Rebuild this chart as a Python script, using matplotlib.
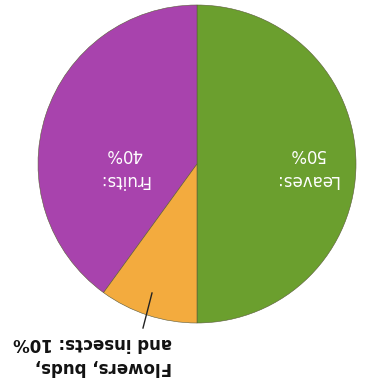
import matplotlib.pyplot as plt

# diet shares (the picture is printed upside down)
labels = ['Leaves:\n50%', 'Fruits:\n40%', 'Flowers, buds,\nand insects: 10%']
shares = [50, 40, 10]
colors = ['#6b9f2e', '#a843ad', '#f3ab3e']

fig = plt.figure(figsize=(3.65, 3.85), dpi=100)
ax = fig.add_axes([0, 0, 1, 1])

wedges, _ = ax.pie(shares, colors=colors, startangle=-90, counterclock=True,
                   center=(197, 221), radius=159,
                   wedgeprops=dict(edgecolor='#5a5a3a', linewidth=0.4))
ax.set_xlim(0, 365)
ax.set_ylim(0, 385)
ax.set_aspect('equal')
ax.axis('off')

# inside labels, rotated 180 degrees
ax.text(306, 218, labels[0], color='white', fontsize=12, rotation=180,
        ha='center', va='center', multialignment='center', linespacing=1.55)
ax.text(124, 218, labels[1], color='white', fontsize=12, rotation=180,
        ha='center', va='center', multialignment='center', linespacing=1.55)

# outside label with leader line
ax.plot([152, 143], [92, 57], color='#222222', lw=1)
ax.text(93, 30, labels[2], color='#111111', fontsize=12, fontweight='bold',
        rotation=180, ha='center', va='center', multialignment='left',
        linespacing=1.45)

fig.savefig('out.png', dpi=100)
